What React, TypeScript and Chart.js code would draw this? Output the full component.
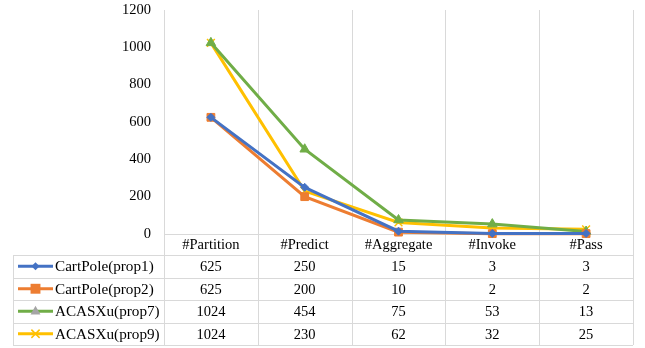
import React, { useEffect, useRef } from "react";
import { Chart, registerables } from "chart.js";

Chart.register(...registerables);

const categories = ["#Partition", "#Predict", "#Aggregate", "#Invoke", "#Pass"];
const seriesNames = ["CartPole(prop1)", "CartPole(prop2)", "ACASXu(prop7)", "ACASXu(prop9)"];
const cartPole1 = [625, 250, 15, 3, 3];
const cartPole2 = [625, 200, 10, 2, 2];
const acasProp7 = [1024, 454, 75, 53, 13];
const acasProp9 = [1024, 230, 62, 32, 25];
const yMin = 0;
const yMax = 1200;
const yStep = 200;

const seriesValues = [cartPole1, cartPole2, acasProp7, acasProp9];
const lineColors = ["#4472C4", "#ED7D31", "#70AD47", "#FFC000"];
const markerFills = ["#4472C4", "#ED7D31", "#70AD47", "#FFC000"];
const legendMarkerFills = ["#4472C4", "#ED7D31", "#A5A5A5", "#FFC000"];
const markerStyles = ["rectRot", "rect", "triangle", "crossRot"];
const markerRadii = [4, 5.5, 5.5, 5.5];

const FONT = '14.5px "Liberation Serif", "Times New Roman", serif';
const LEGEND_FONT = '15.2px "Liberation Serif", "Times New Roman", serif';
const GRID = "#D9D9D9";

function drawMarker(ctx: CanvasRenderingContext2D, style: string, x: number, y: number, r: number, color: string, fill: string) {
  ctx.save();
  ctx.fillStyle = fill;
  ctx.strokeStyle = color;
  ctx.lineWidth = 1.5;
  ctx.beginPath();
  if (style === "rectRot") {
    ctx.moveTo(x, y - r);
    ctx.lineTo(x + r, y);
    ctx.lineTo(x, y + r);
    ctx.lineTo(x - r, y);
    ctx.closePath();
    ctx.fill();
  } else if (style === "rect") {
    const s = r * 0.9;
    ctx.rect(x - s, y - s, 2 * s, 2 * s);
    ctx.fill();
  } else if (style === "triangle") {
    ctx.moveTo(x, y - r);
    ctx.lineTo(x + r * 0.9, y + r * 0.6);
    ctx.lineTo(x - r * 0.9, y + r * 0.6);
    ctx.closePath();
    ctx.fill();
  } else {
    const s = r * 0.75;
    ctx.moveTo(x - s, y - s);
    ctx.lineTo(x + s, y + s);
    ctx.moveTo(x + s, y - s);
    ctx.lineTo(x - s, y + s);
    ctx.stroke();
  }
  ctx.restore();
}

const tablePlugin = {
  id: "dataTable",
  beforeDatasetsDraw(chart: any) {
    const { ctx, chartArea } = chart;
    const { left, right, top, bottom } = chartArea;
    const n = categories.length;
    const colW = (right - left) / n;
    const tableLeft = 13;
    const rowTops = [bottom, bottom + 21, bottom + 43.5, bottom + 66, bottom + 88.5, bottom + 111];
    const tableBottom = rowTops[rowTops.length - 1];
    ctx.save();
    ctx.strokeStyle = GRID;
    ctx.lineWidth = 1;
    for (let i = 0; i <= n; i++) {
      const x = Math.round(left + i * colW) + 0.5;
      ctx.beginPath();
      ctx.moveTo(x, top);
      ctx.lineTo(x, tableBottom);
      ctx.stroke();
    }
    ctx.beginPath();
    ctx.moveTo(left, Math.round(bottom) + 0.5);
    ctx.lineTo(right, Math.round(bottom) + 0.5);
    ctx.stroke();
    for (let r = 1; r < rowTops.length; r++) {
      const y = Math.round(rowTops[r]) + 0.5;
      ctx.beginPath();
      ctx.moveTo(tableLeft, y);
      ctx.lineTo(right, y);
      ctx.stroke();
    }
    ctx.beginPath();
    ctx.moveTo(tableLeft + 0.5, Math.round(rowTops[1]) + 0.5);
    ctx.lineTo(tableLeft + 0.5, Math.round(tableBottom) + 0.5);
    ctx.stroke();

    ctx.font = FONT;
    ctx.fillStyle = "#000000";
    ctx.textBaseline = "middle";
    ctx.textAlign = "center";
    for (let i = 0; i < n; i++) {
      const cx = left + (i + 0.5) * colW;
      ctx.fillText(categories[i], cx, (rowTops[0] + rowTops[1]) / 2 + 1);
      for (let s = 0; s < seriesValues.length; s++) {
        ctx.fillText(String(seriesValues[s][i]), cx, (rowTops[s + 1] + rowTops[s + 2]) / 2 + 1);
      }
    }
    ctx.textAlign = "left";
    ctx.font = LEGEND_FONT;
    for (let s = 0; s < seriesNames.length; s++) {
      const cy = (rowTops[s + 1] + rowTops[s + 2]) / 2;
      ctx.strokeStyle = lineColors[s];
      ctx.lineWidth = 3;
      ctx.beginPath();
      ctx.moveTo(18, cy);
      ctx.lineTo(53, cy);
      ctx.stroke();
      drawMarker(ctx, markerStyles[s], 35.5, cy, markerRadii[s], lineColors[s], legendMarkerFills[s]);
      ctx.fillStyle = "#000000";
      ctx.fillText(seriesNames[s], 55, cy + 1);
    }
    ctx.restore();
  },
};

export default function App() {
  const canvasRef = useRef<HTMLCanvasElement | null>(null);

  useEffect(() => {
    if (!canvasRef.current) return;
    const chart = new Chart(canvasRef.current, {
      type: "line",
      data: {
        labels: categories,
        datasets: seriesValues.map((vals, i) => ({
          label: seriesNames[i],
          data: vals,
          borderColor: lineColors[i],
          backgroundColor: markerFills[i],
          borderWidth: 3,
          pointStyle: markerStyles[i] as any,
          pointRadius: markerRadii[i],
          pointBackgroundColor: markerFills[i],
          pointBorderColor: markerFills[i],
          pointBorderWidth: i === 3 ? 1.5 : 1,
          tension: 0,
          clip: false as any,
        })),
      },
      options: {
        animation: false,
        responsive: true,
        maintainAspectRatio: false,
        layout: { padding: { top: 10, right: 12, bottom: 114, left: 0 } },
        plugins: { legend: { display: false }, tooltip: { enabled: false } },
        scales: {
          x: { type: "category", display: false, offset: true },
          y: {
            min: yMin,
            max: yMax,
            ticks: {
              stepSize: yStep,
              padding: 5,
              color: "#000000",
              font: { family: '"Liberation Serif", "Times New Roman", serif', size: 14.5 },
              callback: (v: any) => String(v),
            },
            grid: { display: false },
            border: { display: false },
            afterFit: (scale: any) => {
              scale.width = 164;
              scale.paddingTop = 0;
              scale.paddingBottom = 0;
            },
          },
        },
      },
      plugins: [tablePlugin],
    });
    return () => chart.destroy();
  }, []);

  return (
    <div style={{ position: "fixed", left: 0, top: 0, width: 645, height: 348, background: "#fff" }}>
      <canvas ref={canvasRef} />
    </div>
  );
}
